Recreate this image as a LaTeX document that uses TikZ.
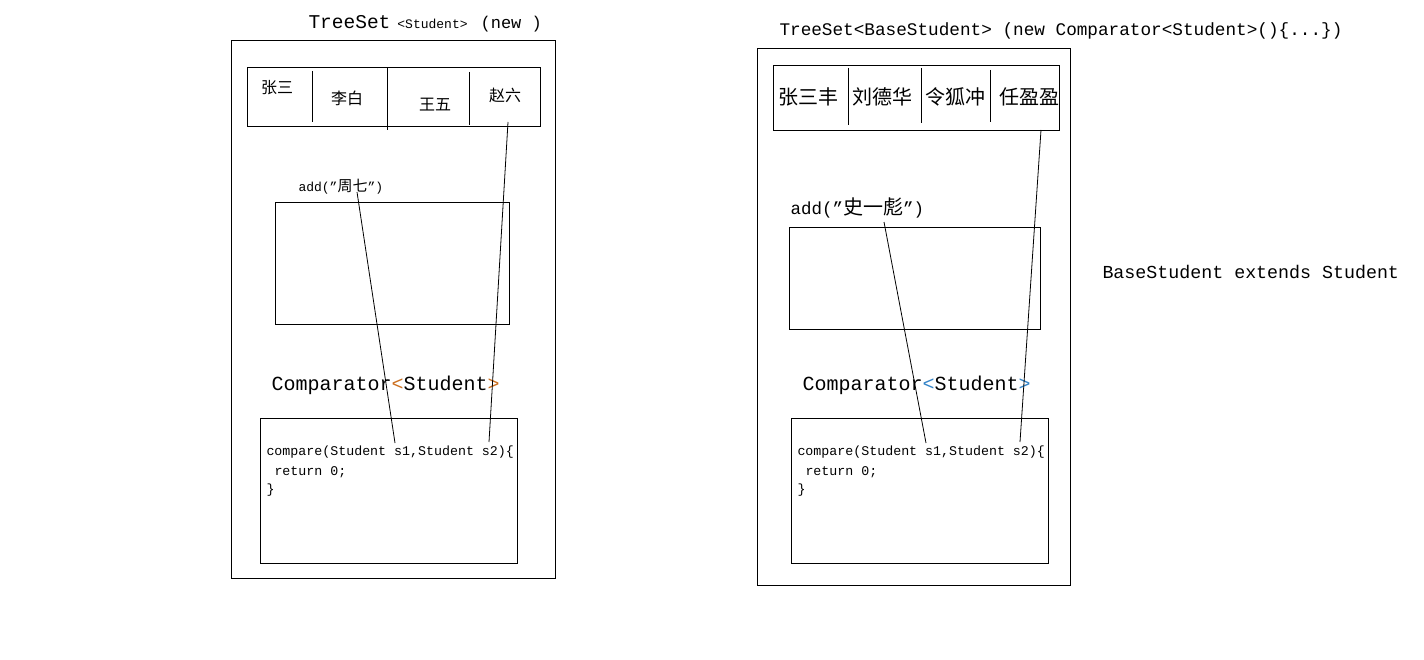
\documentclass[tikz,border=0pt]{standalone}
\usepackage{fontspec}
\setmainfont{Liberation Mono}
\newfontfamily\cjk{Noto Sans CJK SC}
\usetikzlibrary{positioning}
\definecolor{brOrange}{RGB}{204,112,32}
\definecolor{brBlue}{RGB}{52,132,200}
\newcommand{\fs}[1]{\fontsize{#1}{#1}\selectfont}

\begin{document}
\begin{tikzpicture}[
    x=1pt, y=-1pt,
    line width=1pt,
    box/.style={draw, black},
    codetext/.style={anchor=west, inner sep=0pt},
    cjkcell/.style={inner sep=0pt},
    link/.style={draw, line width=0.8pt}
]
\useasboundingbox (0,0) rectangle (1424,660);

% left: TreeSet<Student>
\node[codetext] (titleL) at (308,24) {\fs{19.5}TreeSet\hspace{7pt}{\fs{13}<Student>}\hspace{13pt}{\fs{17}(new )}};
\draw[box] (231,41) rectangle (555,578);
\draw[box] (247,68) rectangle (540,127);
\draw (312,71) -- (312,122);
\draw (387,68) -- (387,130);
\draw (469,72) -- (469,125);
\node[cjkcell, font=\cjk\fs{16}] (zs) at (277,88) {张三};
\node[cjkcell, font=\cjk\fs{16}] (lb) at (347,98) {李白};
\node[cjkcell, font=\cjk\fs{16}] (ww) at (435,105) {王五};
\node[cjkcell, font=\cjk\fs{16}] (zl) at (505,95) {赵六};

\node[codetext] (addL) at (298,187) {\fs{13}add(”{\cjk\fs{15}周七}”)};
\draw[box] (275,203) rectangle (509,324);

\node[codetext] (cmpL) at (271,385) {\fs{20}Comparator\textcolor{brOrange}{<}Student\textcolor{brOrange}{>}};
\draw[box] (260,418) rectangle (517,563);
\node[codetext] (codeL1) at (266,452) {\fs{13.3}compare(Student s1,Student s2)\{};
\node[codetext] (codeL2) at (274,472) {\fs{13.3}return 0;};
\node[codetext] (codeL3) at (266,490) {\fs{13.3}\}};

\coordinate (zqL) at (357,192);
\coordinate (zlL) at (508,122);
\coordinate (s1L) at (395,443);
\coordinate (s2L) at (489,442);
\draw[link] (zqL) -- (s1L);
\draw[link] (zlL) -- (s2L);

% right: TreeSet<BaseStudent>
\node[codetext] (titleR) at (779,31) {\fs{17.7}TreeSet<BaseStudent> (new Comparator<Student>()\{...\})};
\draw[box] (757,49) rectangle (1070,585);
\draw[box] (773,66) rectangle (1059,131);
\draw (848,68) -- (848,125);
\draw (921,68) -- (921,123);
\draw (990,70) -- (990,122);
\node[cjkcell, font=\cjk\fs{20}] (zsf) at (808,97) {张三丰};
\node[cjkcell, font=\cjk\fs{20}] (ldh) at (882,97) {刘德华};
\node[cjkcell, font=\cjk\fs{20}] (lhc) at (955,97) {令狐冲};
\node[cjkcell, font=\cjk\fs{20}] (ryy) at (1029,97) {任盈盈};

\node[codetext] (addR) at (790,208) {\fs{17.5}add(”{\cjk\fs{20}史一彪}”)};
\draw[box] (789,228) rectangle (1040,329);

\node[codetext] (cmpR) at (802,385) {\fs{20}Comparator\textcolor{brBlue}{<}Student\textcolor{brBlue}{>}};
\draw[box] (791,418) rectangle (1048,563);
\node[codetext] (codeR1) at (797,452) {\fs{13.3}compare(Student s1,Student s2)\{};
\node[codetext] (codeR2) at (805,472) {\fs{13.3}return 0;};
\node[codetext] (codeR3) at (797,490) {\fs{13.3}\}};

\coordinate (sybR) at (884,222);
\coordinate (ryyR) at (1041,130);
\coordinate (s1R) at (926,443);
\coordinate (s2R) at (1020,442);
\draw[link] (sybR) -- (s1R);
\draw[link] (ryyR) -- (s2R);

\node[codetext] (ext) at (1102,272) {\fs{18.3}BaseStudent extends Student};
\end{tikzpicture}
\end{document}
